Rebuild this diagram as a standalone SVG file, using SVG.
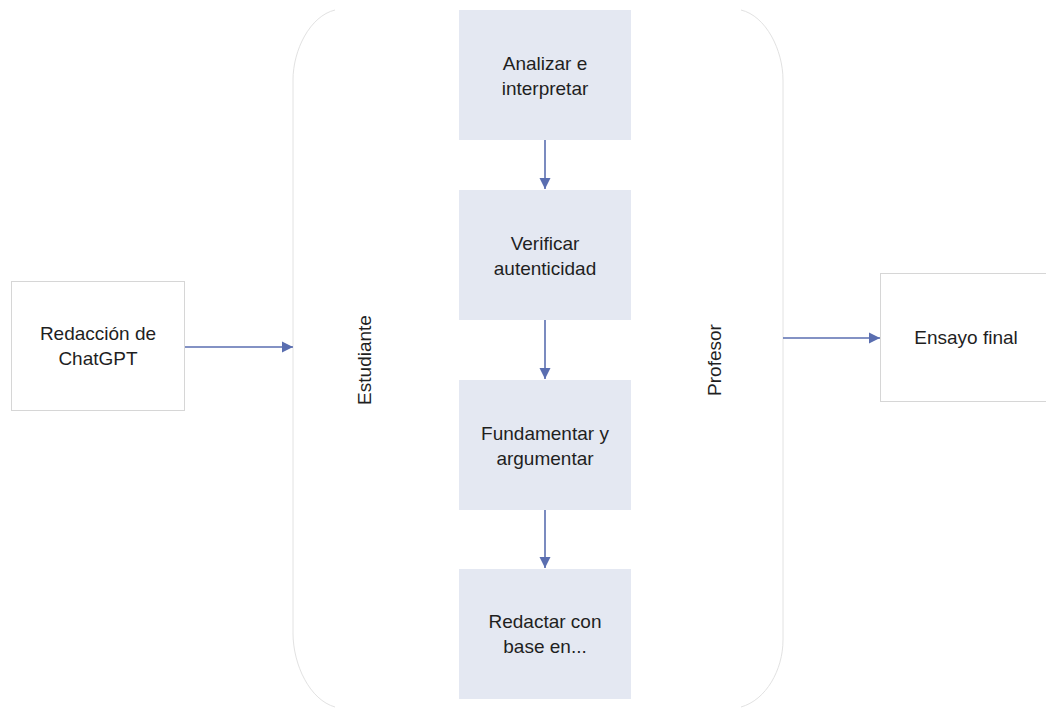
<svg xmlns="http://www.w3.org/2000/svg" width="1046" height="708" viewBox="0 0 1046 708">
  <style>
    .lbl { font-family: "Liberation Sans", Arial, sans-serif; font-size: 19px; fill: #1f1f1f; text-anchor: middle; }
    .plain { fill: #ffffff; stroke: #d6d6d6; stroke-width: 1; }
    .step { fill: #e4e8f2; stroke: none; }
    .brace { fill: none; stroke: #e2e2e2; stroke-width: 1; }
    .conn { fill: none; stroke: #5a6eb0; stroke-width: 1.6; }
  </style>
  <defs>
    <marker id="arrow" markerWidth="12" markerHeight="12" refX="11" refY="6" orient="auto" markerUnits="userSpaceOnUse">
      <path d="M0,0.5 L11,6 L0,11.5 Z" fill="#5a6eb0"/>
    </marker>
  </defs>
  <rect width="1046" height="708" fill="#ffffff"/>

  <!-- enclosing brackets with the role labels -->
  <g id="container">
    <path class="brace" d="M335,10 C310,16 293,50 293,80 L293,633 C293,665 310,700 335,707"/>
    <path class="brace" d="M741,10 C766,16 783,50 783,80 L783,640 C783,670 766,700 741,707"/>
    <text class="lbl" transform="translate(371,360) rotate(-90)">Estudiante</text>
    <text class="lbl" transform="translate(721,360) rotate(-90)">Profesor</text>
  </g>

  <g id="source">
    <rect class="plain" x="11.5" y="281.5" width="173" height="129"/>
    <text class="lbl" x="98" y="340">Redacción de</text>
    <text class="lbl" x="98" y="365">ChatGPT</text>
  </g>

  <g id="step1">
    <rect class="step" x="459" y="10" width="172" height="130"/>
    <text class="lbl" x="545" y="70">Analizar e</text>
    <text class="lbl" x="545" y="95">interpretar</text>
  </g>

  <g id="step2">
    <rect class="step" x="459" y="190" width="172" height="130"/>
    <text class="lbl" x="545" y="250">Verificar</text>
    <text class="lbl" x="545" y="275">autenticidad</text>
  </g>

  <g id="step3">
    <rect class="step" x="459" y="380" width="172" height="130"/>
    <text class="lbl" x="545" y="440">Fundamentar y</text>
    <text class="lbl" x="545" y="465">argumentar</text>
  </g>

  <g id="step4">
    <rect class="step" x="459" y="569" width="172" height="130"/>
    <text class="lbl" x="545" y="628">Redactar con</text>
    <text class="lbl" x="545" y="653">base en...</text>
  </g>

  <g id="result">
    <rect class="plain" x="880.5" y="273.5" width="180" height="128"/>
    <text class="lbl" x="966" y="344">Ensayo final</text>
  </g>

  <g id="connectors">
    <line class="conn" x1="185" y1="347" x2="293" y2="347" marker-end="url(#arrow)"/>
    <line class="conn" x1="545" y1="140" x2="545" y2="189" marker-end="url(#arrow)"/>
    <line class="conn" x1="545" y1="320" x2="545" y2="379" marker-end="url(#arrow)"/>
    <line class="conn" x1="545" y1="510" x2="545" y2="568" marker-end="url(#arrow)"/>
    <line class="conn" x1="783" y1="338" x2="880" y2="338" marker-end="url(#arrow)"/>
  </g>
</svg>
